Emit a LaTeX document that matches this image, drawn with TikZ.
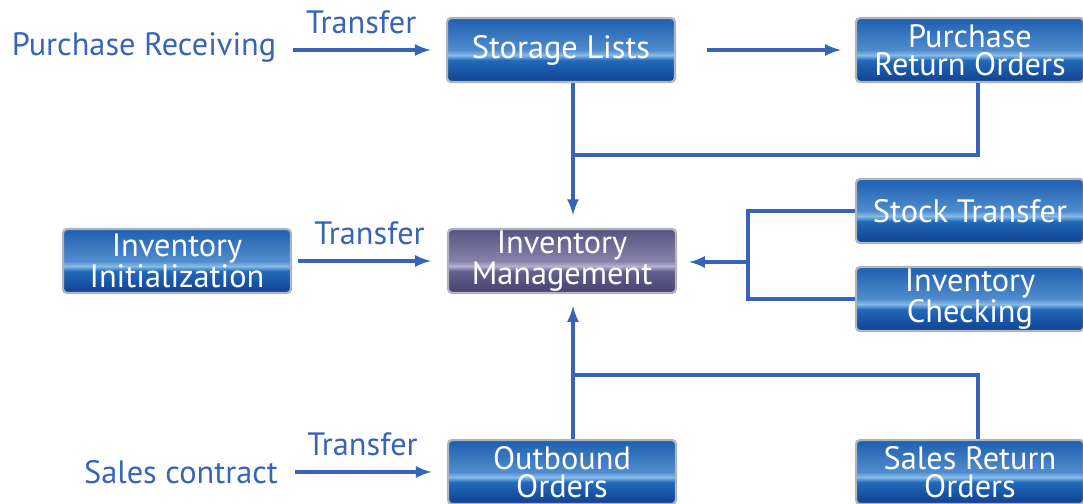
\documentclass[tikz,border=0pt]{standalone}
\usepackage{fontspec}
\setmainfont{PT Sans}
\usetikzlibrary{shapes,arrows}
\usetikzlibrary{arrows,calc,positioning}
\definecolor{linkblue}{RGB}{55,100,185}
\definecolor{boxedge}{RGB}{175,180,190}
\definecolor{bbot}{RGB}{15,65,145}
\definecolor{bmid}{RGB}{35,105,185}
\definecolor{bhi}{RGB}{135,188,232}
\definecolor{bmid2}{RGB}{80,140,205}
\definecolor{btop}{RGB}{30,95,175}
\definecolor{pbot}{RGB}{70,65,110}
\definecolor{pmid}{RGB}{100,95,140}
\definecolor{phi}{RGB}{180,178,208}
\definecolor{pmid2}{RGB}{135,130,170}
\definecolor{ptop}{RGB}{88,82,128}
\pgfdeclareverticalshading{bluegloss}{100bp}{color(0bp)=(bbot); color(25bp)=(bbot); color(42bp)=(bmid); color(46bp)=(bhi); color(50bp)=(bmid2); color(75bp)=(btop); color(100bp)=(btop)}
\pgfdeclareverticalshading{purplegloss}{100bp}{color(0bp)=(pbot); color(25bp)=(pbot); color(42bp)=(pmid); color(46bp)=(phi); color(50bp)=(pmid2); color(75bp)=(ptop); color(100bp)=(ptop)}
\newcommand\blkfont{\fontsize{23}{20}\selectfont}
\newcommand\lblfont{\fontsize{23}{26}\selectfont}
\tikzset{
        block/.style = {draw=boxedge, line width=1.6pt, rounded corners=3pt,
            shade, shading=bluegloss, text=white, align=center,
            font=\blkfont, inner sep=0pt,
            minimum height=1.6cm,
            minimum width=5.7cm},
        mgmt/.style = {block, shading=purplegloss},
        plain/.style = {text=linkblue, font=\lblfont, inner sep=0pt},
        arrow/.style={draw=linkblue, line width=2.8pt, -latex},
        link/.style={draw=linkblue, line width=2.8pt},
    }

\begin{document}
\begin{tikzpicture}[x=0.025cm,y=-0.025cm]
                \useasboundingbox (0,0) rectangle (1083,504);
                % boxes
                \node[block] (sl) at (561,50) {Storage Lists};
                \node[block] (pro) at (970,50) {Purchase\\Return Orders};
                \node[mgmt] (im) at (562,261) {Inventory\\Management};
                \node[block] (ii) at (177,261) {Inventory\\Initialization};
                \node[block] (st) at (970,211) {Stock Transfer};
                \node[block] (ic) at (970,299) {Inventory\\Checking};
                \node[block] (oo) at (562,472) {Outbound\\Orders};
                \node[block] (sro) at (970,472) {Sales Return\\Orders};

                % plain texts
                \node[plain] (pr) at (144,47) {Purchase Receiving};
                \node[plain] (sc) at (181,472) {Sales contract};

                % junctions
                \coordinate (j1) at (573,155);
                \coordinate (j2) at (978,155);
                \coordinate (j3) at (748,262);
                \coordinate (j4) at (573,375);
                \coordinate (j5) at (978,375);

                \draw[arrow, shorten <=0.42cm, shorten >=0.38cm] (pr.east |- sl) -- node[plain, above=0.35cm] {Transfer} (sl);
                \draw[arrow, shorten <=0.78cm, shorten >=0.35cm] (sl) -- (pro);
                \draw[arrow, shorten >=0.32cm] (sl.south -| j1) -- (im.north -| j1);
                \draw[link] (pro.south -| j2) |- (j1);

                \draw[arrow, shorten <=0.15cm, shorten >=0.4cm] (ii) -- node[plain, above=0.35cm] {Transfer} (im);
                \draw[arrow, shorten >=0.3cm] (j3) -- (im.east |- j3);
                \draw[link] (st.west) -| (j3) |- (ic.west);

                \draw[arrow, shorten >=0.3cm] (oo.north -| j4) -- (im.south -| j4);
                \draw[link] (sro.north -| j5) |- (j4);
                \draw[arrow, shorten <=0.42cm, shorten >=0.38cm] (sc.east) -- node[plain, above=0.35cm] {Transfer} (sc.east -| oo.west);
\end{tikzpicture}
\end{document}
